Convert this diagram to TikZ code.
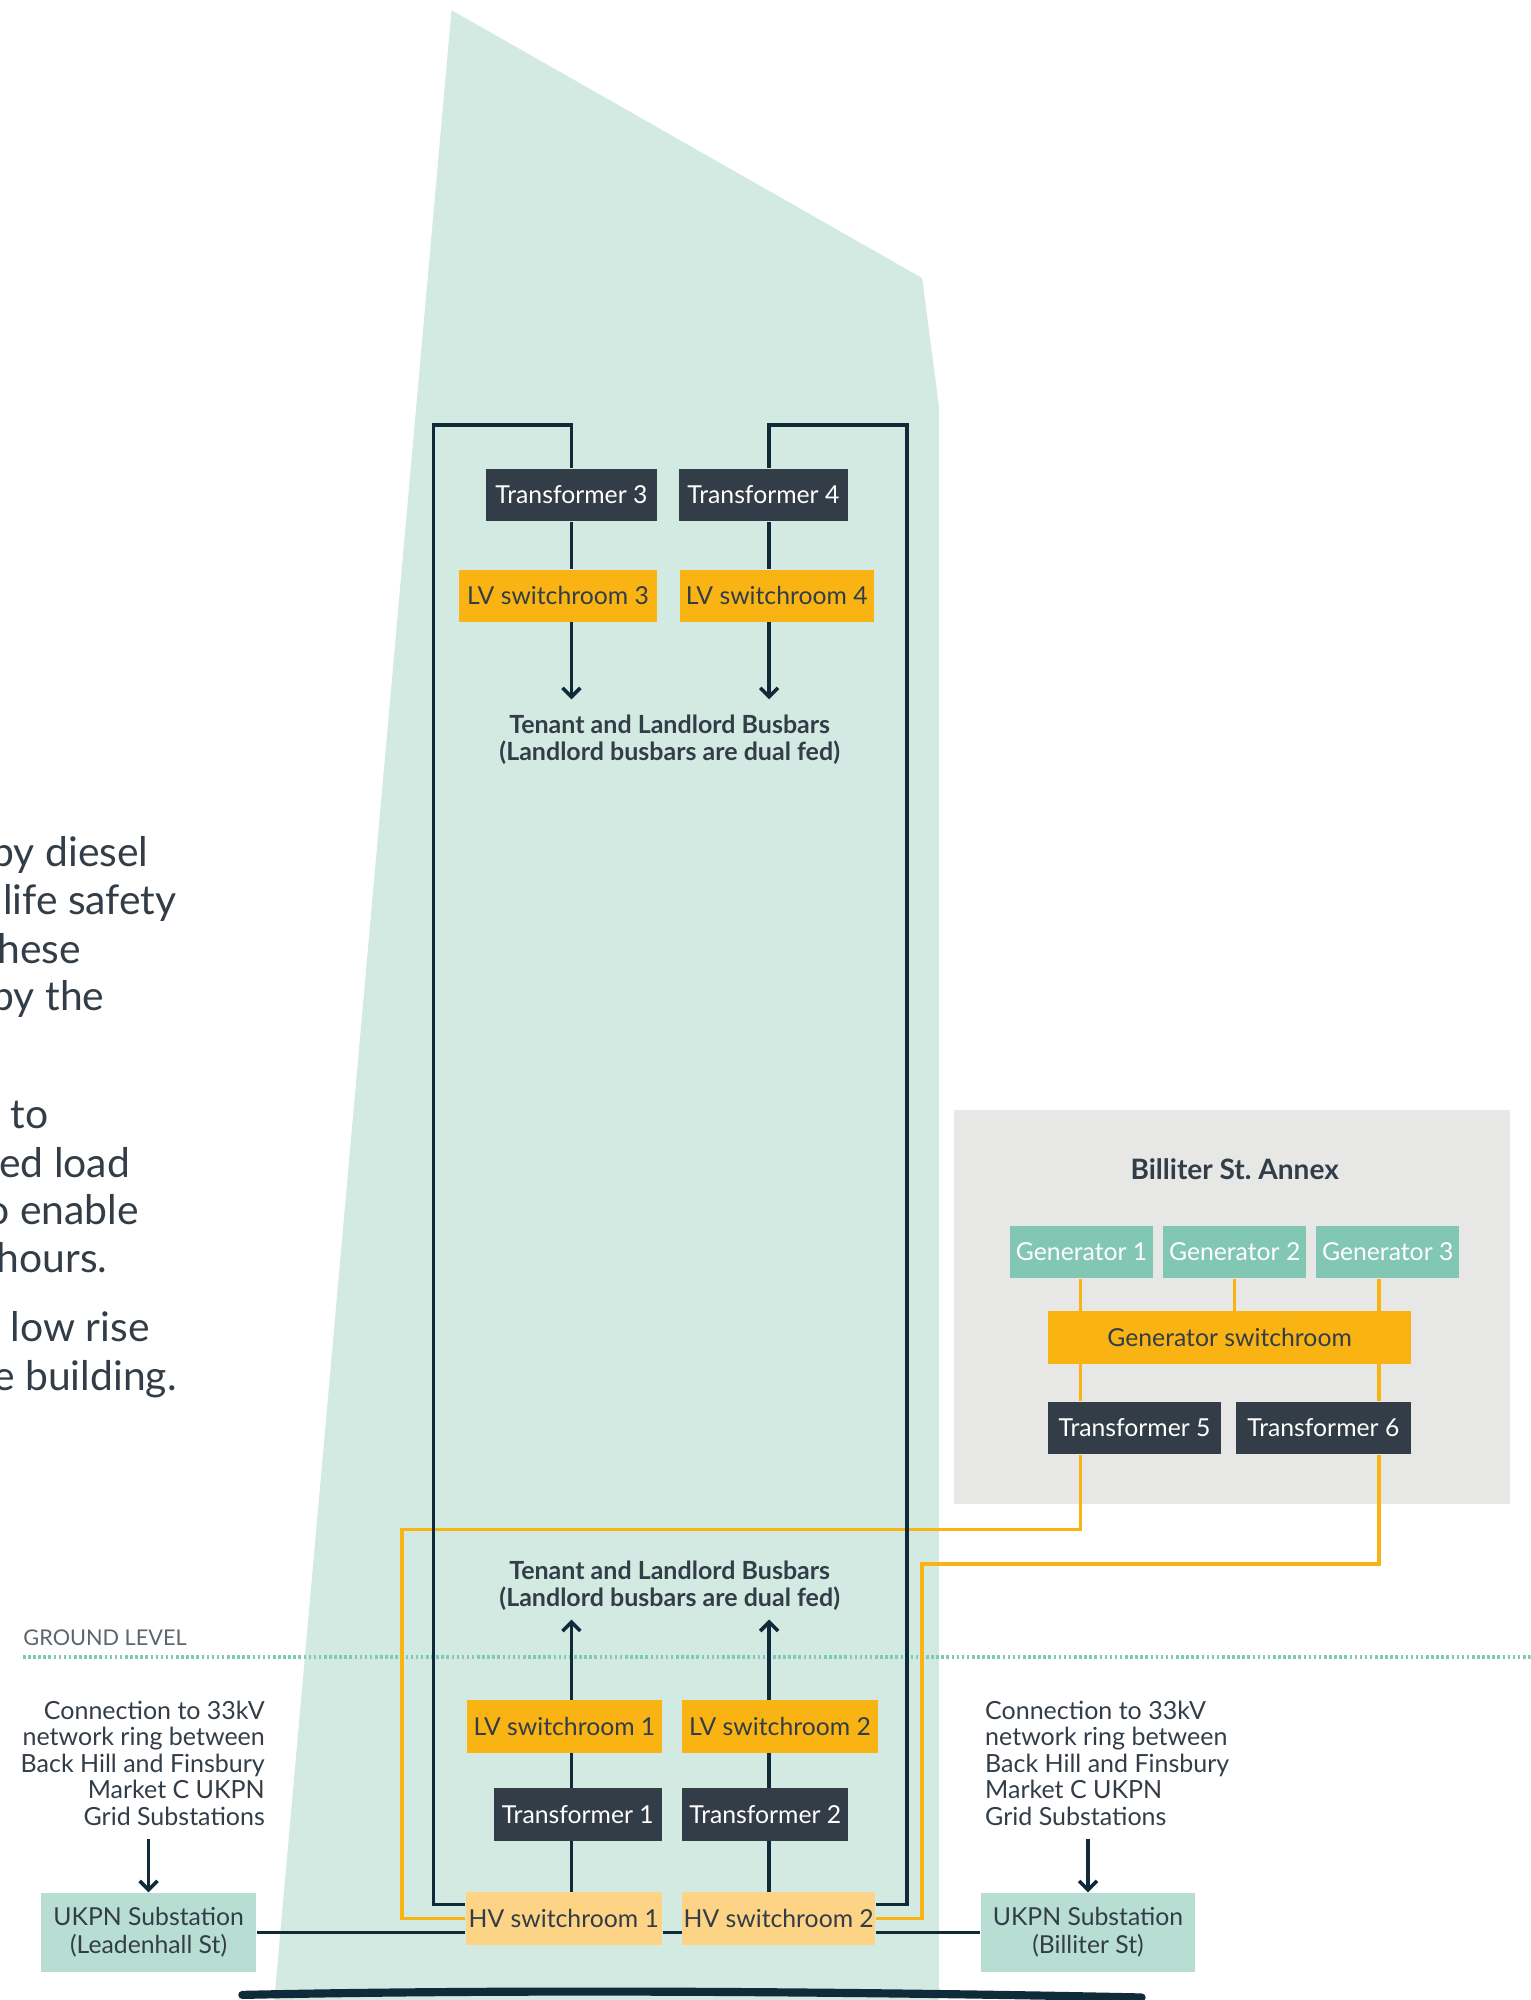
\documentclass[tikz,border=0pt]{standalone}
\usepackage{fontspec}
\setmainfont{Lato}
\usetikzlibrary{arrows.meta}
\definecolor{bldg}{HTML}{D3EAE2}
\definecolor{navy}{HTML}{0F2B3A}
\definecolor{slate}{HTML}{333D47}
\definecolor{amber}{HTML}{F9B414}
\definecolor{pale}{HTML}{FDD386}
\definecolor{gent}{HTML}{82C6B4}
\definecolor{ukpn}{HTML}{B8DED4}
\definecolor{annexgray}{HTML}{E7E7E5}
\definecolor{dots}{HTML}{7FCAB4}
\begin{document}
\begin{tikzpicture}[x=0.5pt,y=-0.5pt,
	box/.style={minimum height=20.5pt,inner sep=0pt,font=\fontsize{9.7}{11}\selectfont},
	tr/.style={box,fill=slate,text=white},
	lv/.style={box,fill=amber,text=slate},
	hv/.style={box,fill=pale,text=slate},
	gen/.style={box,fill=gent,text=white},
	sub/.style={box,fill=ukpn,text=slate,minimum height=31pt,align=center},
	note/.style={text=slate,inner sep=0pt,font=\fontsize{9.8}{10.4}\selectfont},
	bus/.style={note,align=center,font=\fontsize{9.8}{10.5}\selectfont\bfseries},
	feed/.style={navy,line width=1.4pt},
	gfeed/.style={amber,line width=1.4pt},
	arr/.style={-{Straight Barb[length=3.5pt,width=7pt]}}]
	\useasboundingbox (0,0) rectangle (1200,1568);
	\clip (0,0) rectangle (1200,1568);
	\fill[bldg] (354,8)--(723,218)--(736,318)--(736,1580)--(214,1580)--cycle;
	\fill[annexgray] (748,870) rectangle (1184,1179);
	\node[text=slate,inner sep=0pt,font=\fontsize{11}{12}\selectfont\bfseries] (annexT) at (968,917) {Billiter St.\ Annex};
	\foreach \x/\y/\t [count=\i] in {-7/679/by diesel,2/717/life safety,-14/755/these,-7/792/by the,8/885/to,-1/923/ed load,-11/960/o enable,-3/998/hours.,8/1052/low rise,-35/1090/the building.}
		{\node[note,anchor=base west,font=\fontsize{16}{19}\selectfont] (para\i) at (\x,\y) {\t};}
	\node[anchor=west,inner sep=0pt,text=slate!80,font=\fontsize{8.5}{10}\selectfont] (ground) at (18,1284) {GROUND LEVEL};
	\coordinate (gl) at (1200,1299);
	\draw[dots,line width=1.3pt,dash pattern=on 1pt off 1pt] (ground.west |- gl)--(gl);
	\node[tr,minimum width=67pt] (T3) at (448,388) {Transformer 3};
	\node[tr,minimum width=66.5pt] (T4) at (598.5,388) {Transformer 4};
	\node[lv,minimum width=77.5pt] (LV3) at (437.5,467) {LV switchroom 3};
	\node[lv,minimum width=76pt] (LV4) at (609,467) {LV switchroom 4};
	\node[bus] (busU) at (525,580) {Tenant and Landlord Busbars\\(Landlord busbars are dual fed)};
	\node[bus] (busL) at (525,1243) {Tenant and Landlord Busbars\\(Landlord busbars are dual fed)};
	\node[lv,minimum width=76.5pt] (LV1) at (442.5,1353.5) {LV switchroom 1};
	\node[lv,minimum width=76.5pt] (LV2) at (611.5,1353.5) {LV switchroom 2};
	\node[tr,minimum width=66pt] (T1) at (453,1422.5) {Transformer 1};
	\node[tr,minimum width=65pt] (T2) at (600,1422.5) {Transformer 2};
	\node[hv,minimum width=77pt] (HV1) at (442,1504) {HV switchroom 1};
	\node[hv,minimum width=75.5pt] (HV2) at (610.5,1504) {HV switchroom 2};
	\node[sub,minimum width=84.5pt] (subL) at (116.5,1515) {UKPN Substation\\(Leadenhall St)};
	\node[sub,minimum width=84pt] (subB) at (853,1515) {UKPN Substation\\(Billiter St)};
	\node[note,align=right,anchor=north east] (connL) at (208,1333) {Connection to 33kV\\network ring between\\Back Hill and Finsbury\\Market C UKPN\\Grid Substations};
	\node[note,align=left,anchor=north west] (connB) at (772,1333) {Connection to 33kV\\network ring between\\Back Hill and Finsbury\\Market C UKPN\\Grid Substations};
	\foreach \g/\x in {1/848,2/968,3/1088}{\node[gen,minimum width=56pt] (G\g) at (\x,981.5) {Generator \g};}
	\node[lv,minimum width=142pt] (GS) at (964,1048.5) {Generator switchroom};
	\node[tr,minimum width=67.5pt] (T5) at (889.5,1119.5) {Transformer 5};
	\node[tr,minimum width=68.5pt] (T6) at (1037.5,1119.5) {Transformer 6};
	\coordinate (cA) at (448,0); \coordinate (cB) at (603,0);
	\coordinate (cC) at (847,0); \coordinate (cD) at (1081,0);
	\coordinate (nL) at (340,333); \coordinate (nR) at (711,333);
	\coordinate (oL) at (315,1199); \coordinate (oR) at (723,1226);
	\draw[gfeed] (G1.south -| cC)--(GS.north -| cC) (GS.south -| cC)--(T5.north -| cC);
	\draw[gfeed] (G2.south)--(GS.north -| G2.south);
	\draw[gfeed] (G3.south -| cD)--(GS.north -| cD) (GS.south -| cD)--(T6.north -| cD);
	\draw[gfeed] (T5.south -| cC) |- (oL) |- (HV1.west);
	\draw[gfeed] (T6.south -| cD) |- (oR) |- (HV2.east);
	\draw[feed] (T3.north -| cA) |- (nL) |- ([yshift=5.5pt]HV1.west);
	\draw[feed] (T4.north -| cB) |- (nR) |- ([yshift=5.5pt]HV2.east);
	\draw[feed] (T3.south -| cA)--(LV3.north -| cA) (T4.south -| cB)--(LV4.north -| cB);
	\draw[feed,arr,shorten >=6pt] (LV3.south -| cA)--(busU.north -| cA);
	\draw[feed,arr,shorten >=6pt] (LV4.south -| cB)--(busU.north -| cB);
	\draw[feed,arr,shorten >=3.5pt] (LV1.north -| cA)--(busL.south -| cA);
	\draw[feed,arr,shorten >=3.5pt] (LV2.north -| cB)--(busL.south -| cB);
	\draw[feed] (HV1.north -| cA)--(T1.south -| cA) (T1.north -| cA)--(LV1.south -| cA);
	\draw[feed] (HV2.north -| cB)--(T2.south -| cB) (T2.north -| cB)--(LV2.south -| cB);
	\draw[feed] (subL.east)--(subL.east -| HV1.west) (HV1.east |- subL.east)--(HV2.west |- subL.east) (HV2.east |- subB.west)--(subB.west);
	\draw[feed,arr,shorten <=5pt] (connL.south -| subL.north)--(subL.north);
	\draw[feed,arr,shorten <=5pt] (connB.south -| subB.north)--(subB.north);
	\draw[navy,line width=3.2pt,line cap=round] (190,1564) .. controls (420,1559) and (700,1562) .. (895,1566);
\end{tikzpicture}
\end{document}
